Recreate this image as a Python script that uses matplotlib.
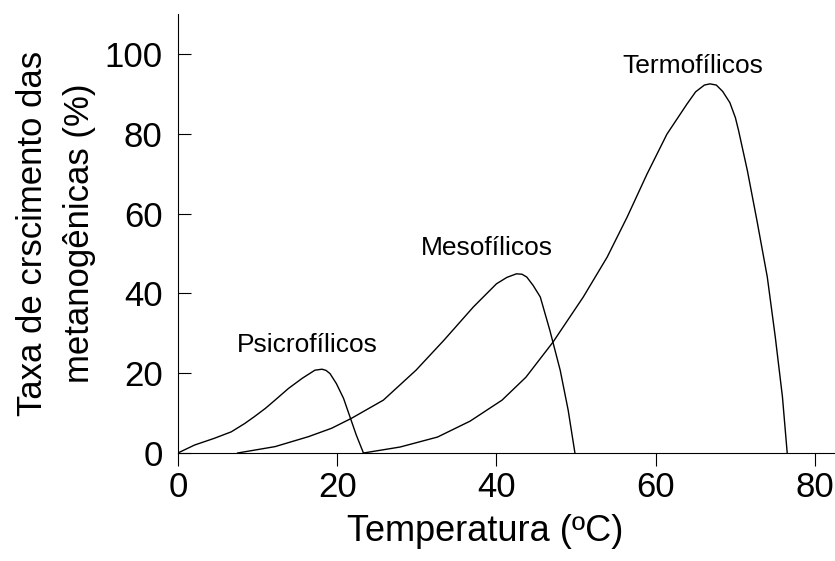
import matplotlib.pyplot as plt
import numpy as np

# curve points (temperature in C, growth rate in %)
psicro_x = [0, 2.1, 4.6, 6.7, 8.4, 9.6, 11.0, 12.2, 13.9, 15.6, 17.2, 18.1, 18.6, 19.1, 19.9, 20.8, 21.6, 22.4, 23.3]
psicro_y = [0, 2.0, 3.7, 5.3, 7.4, 9.1, 11.2, 13.25, 16.2, 18.7, 20.75, 21.0, 20.7, 19.9, 17.4, 13.7, 9.1, 4.5, 0]

meso_x = [7.5, 12.2, 16.4, 19.3, 21.8, 25.8, 29.9, 33.4, 37.1, 40.0, 41.3, 42.5, 43.2, 43.8, 44.6, 45.5, 46.7, 48.0, 49.0, 49.85]
meso_y = [0, 1.6, 4.1, 6.2, 8.7, 13.25, 20.75, 28.25, 36.6, 42.4, 44.0, 44.9, 44.8, 44.1, 42.0, 39.1, 30.75, 20.75, 10.75, 0]

termo_x = [23.3, 27.9, 32.6, 36.7, 40.7, 43.7, 47.1, 50.9, 53.9, 56.4, 58.9, 61.4, 62.6, 63.9, 65.0, 66.1, 66.8, 67.6,
           68.4, 69.3, 70.0, 70.4, 71.5, 72.7, 74.0, 75.0, 75.9, 76.5]
termo_y = [0, 1.5, 4.0, 8.0, 13.25, 19.0, 27.8, 39.1, 49.1, 59.1, 69.9, 79.9, 83.5, 87.4, 90.5, 92.2, 92.5, 92.2,
           90.6, 87.8, 84.0, 80.75, 70.75, 58.25, 44.1, 29.1, 14.1, 0]

labels = ["Psicrofílicos", "Mesofílicos", "Termofílicos"]
label_x = [16.3, 38.8, 64.6]
label_y = [25.3, 49.5, 95.2]

x_ticks = [0, 20, 40, 60, 80]
y_ticks = [0, 20, 40, 60, 80, 100]

plt.rcParams['font.family'] = ['Liberation Sans', 'DejaVu Sans']

fig = plt.figure(figsize=(8.35, 5.61), dpi=100)
ax = fig.add_axes([0.213, 0.1925, 0.787, 0.7825])

for xs, ys in [(psicro_x, psicro_y), (meso_x, meso_y), (termo_x, termo_y)]:
    ax.plot(xs, ys, color="black", linewidth=1.0)

for txt, tx, ty in zip(labels, label_x, label_y):
    ax.text(tx, ty, txt, ha="center", va="baseline", fontsize=19)

ax.set_xlim(0, 82.5)
ax.set_ylim(0, 110)
ax.set_xticks(x_ticks)
ax.set_yticks(y_ticks)
ax.spines["top"].set_visible(False)
ax.spines["right"].set_visible(False)
ax.tick_params(axis="x", direction="out", length=9, labelsize=25, pad=4)
ax.tick_params(axis="y", direction="in", length=9, labelsize=25, pad=11)

ax.set_xlabel("Temperatura (ºC)", fontsize=26, labelpad=7, x=0.467)
ax.set_ylabel("Taxa de crscimento das\nmetanogênicas (%)", fontsize=25, labelpad=6, linespacing=1.55)

fig.savefig("out.png", dpi=100)
